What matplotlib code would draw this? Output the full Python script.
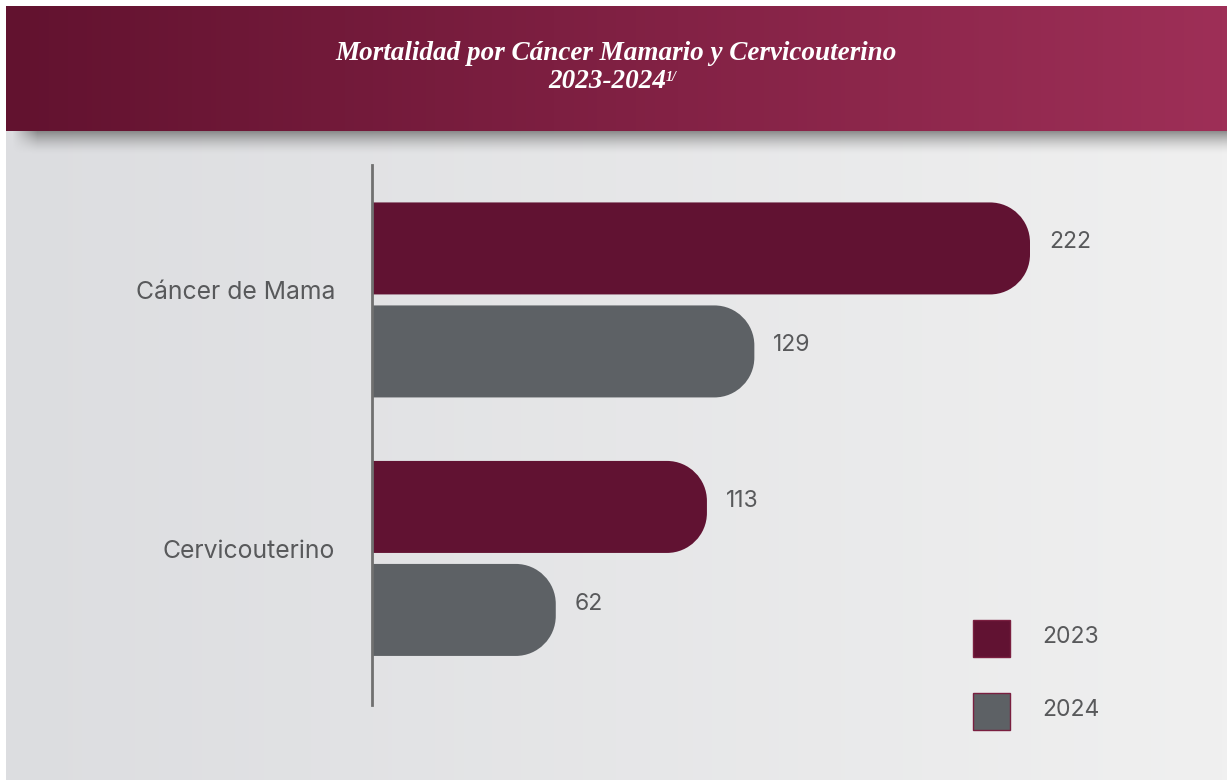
import numpy as np
import matplotlib.pyplot as plt
from matplotlib.path import Path
from matplotlib.patches import PathPatch, Rectangle
from matplotlib.colors import LinearSegmentedColormap, to_rgb

# data
categories = ['Cáncer de Mama', 'Cervicouterino']
years = ['2023', '2024']
values_2023 = [222, 113]
values_2024 = [129, 62]
title_line1 = 'Mortalidad por Cáncer Mamario y Cervicouterino'
title_line2 = '2023-2024'
title_note = '1/'

colors = {'2023': '#611232', '2024': '#5d6165'}
text_color = '#58595b'

W, H = 1227, 780
fig = plt.figure(figsize=(W / 100, H / 100), dpi=100)
fig.patch.set_facecolor('white')

# background layer in pixel coordinates
bg = fig.add_axes([0, 0, 1, 1])
bg.set_xlim(0, W)
bg.set_ylim(H, 0)
bg.axis('off')

grad = np.linspace(0, 1, 256)[None, :]
bg_cmap = LinearSegmentedColormap.from_list('bg', ['#dcdde0', '#f0f0f0'])
bg.imshow(grad, cmap=bg_cmap, extent=[6, W, H, 131], aspect='auto', zorder=0)

# header shadow
sh_h, sh_w = 24, W
ys = np.linspace(0, 1, sh_h)[:, None]
xs = np.arange(sh_w)[None, :]
alpha = (1 - ys) ** 1.6 * 0.75
alpha = alpha * np.clip((xs - 12) / 25.0, 0, 1)
shadow = np.zeros((sh_h, sh_w, 4))
shadow[..., :3] = to_rgb('#6e6e6e')
shadow[..., 3] = alpha
bg.imshow(shadow, extent=[0, W, 131 + sh_h, 131], aspect='auto', zorder=1)

# header
hdr_cmap = LinearSegmentedColormap.from_list('hdr', ['#62122f', '#9e2f57'])
bg.imshow(grad, cmap=hdr_cmap, extent=[6, W, 131, 6], aspect='auto', zorder=2)

title_font = dict(family='Liberation Serif', style='italic', weight='bold', color='white')
bg.text(616, 53, title_line1, ha='center', va='center', fontsize=19.5, zorder=3, **title_font)
t2 = bg.text(607, 82, title_line2, ha='center', va='center', fontsize=19.5, zorder=3, **title_font)
bg.annotate(title_note, xy=(1, 0.95), xycoords=t2, ha='left', va='top',
            fontsize=10, zorder=3, **title_font)

# chart axes
px_per_unit_x = 658 / 222
cat_px = 258.5
ax = fig.add_axes([372 / W, (H - 705) / H, 741 / W, 540 / H])
ax.set_xlim(0, 741 / px_per_unit_x)
ax.set_ylim(1.567, -0.522)
ax.patch.set_alpha(0)
for s in ['top', 'right', 'bottom']:
    ax.spines[s].set_visible(False)
ax.spines['left'].set_color('#707070')
ax.spines['left'].set_linewidth(2)
ax.set_xticks([])
ax.set_yticks([])

bar_h = 92 / cat_px
offset = 51.5 / cat_px
rx = 40 / px_per_unit_x
ry = 40 / cat_px
k = 0.5523


def rounded_bar(ax, yc, val, color):
    y0, y1 = yc - bar_h / 2, yc + bar_h / 2
    x1 = val
    verts = [(0, y0), (x1 - rx, y0),
             (x1 - rx + k * rx, y0), (x1, y0 + ry - k * ry), (x1, y0 + ry),
             (x1, y1 - ry),
             (x1, y1 - ry + k * ry), (x1 - rx + k * rx, y1), (x1 - rx, y1),
             (0, y1), (0, y0)]
    codes = [Path.MOVETO, Path.LINETO,
             Path.CURVE4, Path.CURVE4, Path.CURVE4,
             Path.LINETO,
             Path.CURVE4, Path.CURVE4, Path.CURVE4,
             Path.LINETO, Path.CLOSEPOLY]
    ax.add_patch(PathPatch(Path(verts, codes), facecolor=color, edgecolor='none', zorder=2))


label_font = dict(family=['Inter', 'DejaVu Sans'], color=text_color)
series = {'2023': values_2023, '2024': values_2024}
for j, yr in enumerate(years):
    for i, v in enumerate(series[yr]):
        yc = i + (-offset if j == 0 else offset)
        rounded_bar(ax, yc, v, colors[yr])
        ax.annotate(str(v), xy=(v, yc), xytext=(19, 6), textcoords='offset pixels',
                    ha='left', va='center', fontsize=16.5, **label_font)

for i, cat in enumerate(categories):
    ax.annotate(cat, xy=(0, i), xytext=(-37, 7), textcoords='offset pixels',
                ha='right', va='center', fontsize=17.8, annotation_clip=False, **label_font)

# legend
for j, yr in enumerate(years):
    y = 620 + j * 73
    bg.add_patch(Rectangle((973, y), 37, 37, facecolor=colors[yr],
                           edgecolor='#7a1f40', linewidth=1, zorder=3))
    bg.text(1042, y + 17, yr, ha='left', va='center', fontsize=16.5, zorder=3, **label_font)

fig.savefig('out.png', dpi=100)
